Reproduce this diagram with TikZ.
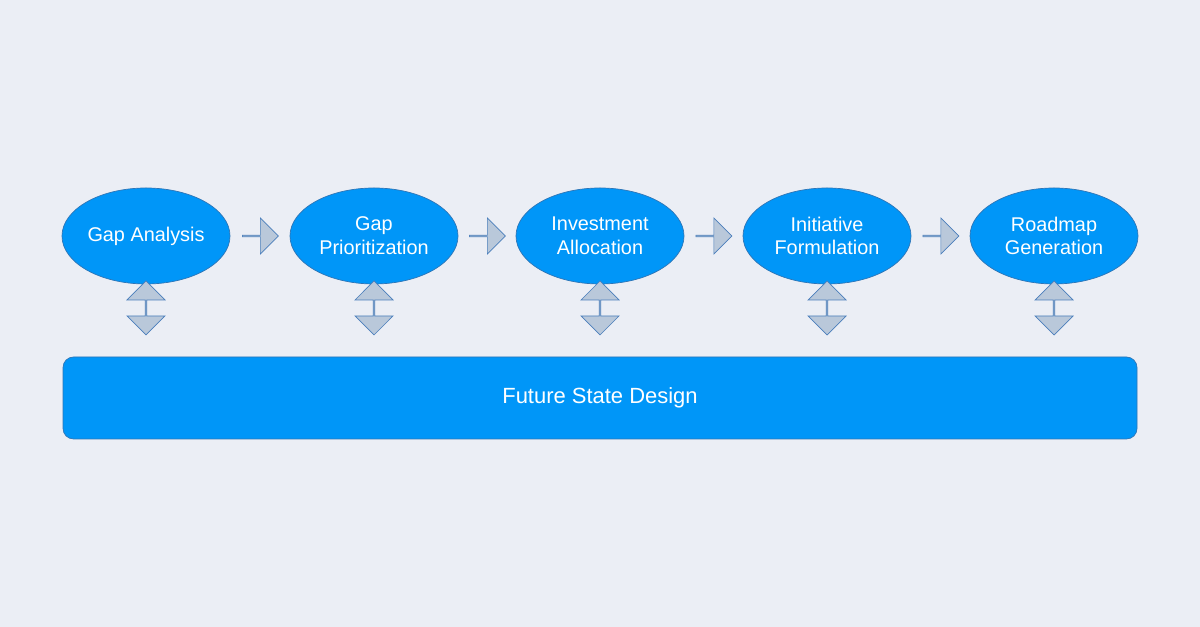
\documentclass[tikz,border=0pt]{standalone}
\usepackage{fontspec}
\setmainfont{Liberation Sans}
\usetikzlibrary{shapes.arrows,shapes.geometric,calc}
\definecolor{bgcol}{HTML}{EBEEF5}
\definecolor{stepfill}{HTML}{0096F8}
\definecolor{stepline}{HTML}{2E75B6}
\definecolor{arrfill}{HTML}{B9C8DA}
\definecolor{arrline}{HTML}{4A7EBB}
\tikzset{
	stage/.style={ellipse, draw=stepline, fill=stepfill, text=white, align=center, minimum width=3.36cm, minimum height=1.92cm, inner sep=0pt, font=\fontsize{11.3}{13.5}\selectfont},
	flowarrow/.style={single arrow, draw=arrline, fill=arrfill, minimum width=0.72cm, minimum height=0.72cm, single arrow head extend=0.16cm, inner sep=0pt},
	linkarrow/.style={double arrow, draw=arrline, fill=arrfill, shape border rotate=90, minimum width=0.76cm, minimum height=1.08cm, double arrow head extend=0.16cm, inner sep=0pt}
}
\begin{document}
\begin{tikzpicture}
		
		%Background
		\fill[bgcol] (0,0) rectangle (24,12.54);
		\useasboundingbox (0,0) rectangle (24,12.54);
		
		%Stages
		\node (gap) at (2.92,7.82) [stage]{Gap Analysis};
		\node (prio) at (7.48,7.82) [stage]{Gap\\Prioritization};
		\node (invest) at (12.0,7.82) [stage]{Investment\\Allocation};
		\node (init) at (16.54,7.82) [stage]{Initiative\\Formulation};
		\node (road) at (21.08,7.82) [stage]{Roadmap\\Generation};
		
		%Future state
		\node (future) at (12.0,4.58) [rectangle, draw=stepline, fill=stepfill, rounded corners=6pt, minimum width=21.48cm, minimum height=1.64cm, text=white, font=\fontsize{12.5}{15}\selectfont]{Future State Design};
		
		%Flow arrows
		\foreach \a/\b in {gap/prio, prio/invest, invest/init, init/road}
			\node[flowarrow] at ($(\a.east)!0.5!(\b.west)$) {};
		
		%Links
		\foreach \s in {gap, prio, invest, init, road}
			\node[linkarrow] at (\s.south |- 0,6.38) {};
		
\end{tikzpicture}
\end{document}
